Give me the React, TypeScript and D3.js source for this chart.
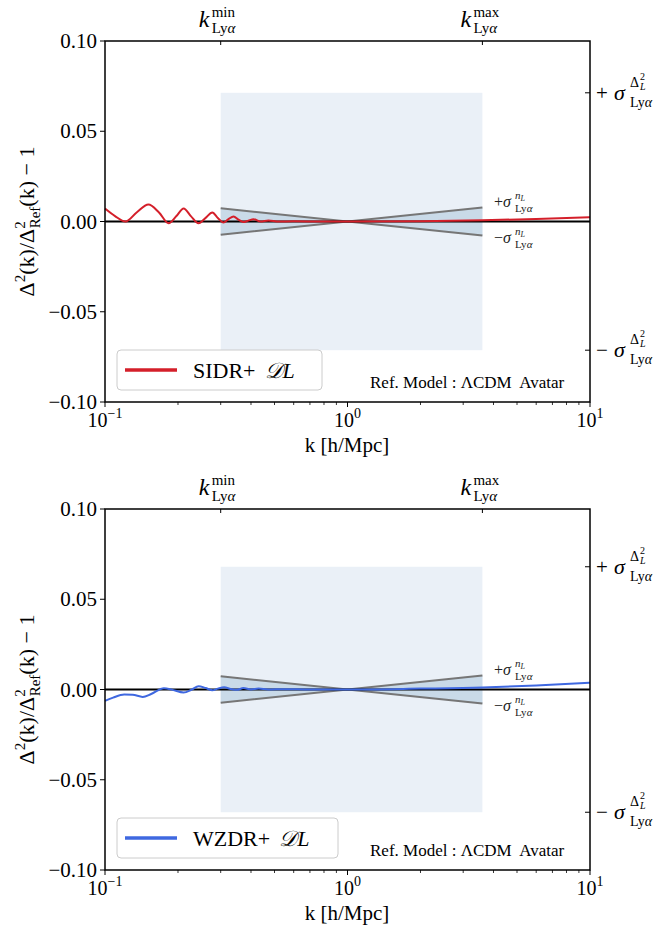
import React from "react";
import * as d3 from "d3";

// x ticks / y ticks
const X_MAJOR = [0.1, 1, 10];
const X_MAJOR_EXP = ["−1", "0", "1"];
const Y_TICKS = [-0.1, -0.05, 0, 0.05, 0.1];
const Y_TICK_LABELS = ["−0.10", "−0.05", "0.00", "0.05", "0.10"];

// Lyα window
const K_MIN = 0.3;
const K_MAX = 3.6;
const NL_K = [0.3, 1, 3.6];
const NL_V = [0.0073, 0, 0.0078];

// SIDR+ DL residuals
const SIDR_K = [0.1, 0.11, 0.1215, 0.135, 0.151, 0.167, 0.183, 0.197, 0.211, 0.226, 0.243, 0.26, 0.277, 0.292, 0.308, 0.322, 0.339, 0.355, 0.372, 0.39, 0.41, 0.438, 0.472, 0.52, 0.6, 0.8, 1.0, 2.0, 3.6, 6.0, 10.0];
const SIDR_V = [0.0072, 0.003, 0.0, 0.005, 0.0094, 0.005, -0.001, 0.003, 0.0072, 0.003, -0.001, 0.002, 0.005, 0.002, -0.0005, 0.0012, 0.0028, 0.001, -0.0003, 0.0005, 0.0012, 0.0, 0.0006, 0.0, 0.0001, 0.0, 0.0, 0.0002, 0.0007, 0.0014, 0.0024];

// WZDR+ DL residuals
const WZDR_K = [0.1, 0.108, 0.12, 0.13, 0.143, 0.155, 0.175, 0.19, 0.211, 0.228, 0.243, 0.26, 0.277, 0.292, 0.31, 0.33, 0.35, 0.372, 0.4, 0.43, 0.47, 0.55, 0.7, 1.0, 2.0, 3.6, 6.0, 10.0];
const WZDR_V = [-0.0063, -0.0045, -0.0028, -0.0029, -0.0041, -0.0025, 0.0007, -0.0002, -0.0017, 0.0, 0.0018, 0.0008, -0.0004, 0.0005, 0.0012, 0.0003, -0.0002, 0.0008, 0.0, 0.0005, 0.0, 0.0002, 0.0, 0.0, 0.0005, 0.0011, 0.0022, 0.0037];

const FONT = "Liberation Serif, Times New Roman, DejaVu Serif, serif";

function Panel({ top, bottom, ks, vs, color, name, sigma }) {
  const x = d3.scaleLog().domain([0.1, 10]).range([105, 590]);
  const y = d3.scaleLinear().domain([-0.1, 0.1]).range([bottom, top]);
  const left = 105;
  const right = 590;

  const pts = ks.map((k, i) => [k, vs[i]]);
  const curve = d3
    .line()
    .x((d) => x(d[0]))
    .y((d) => y(d[1]))
    .curve(d3.curveMonotoneX);

  const nl = NL_K.map((k, i) => [k, NL_V[i]]);
  const area = d3
    .area()
    .x((d) => x(d[0]))
    .y0((d) => y(-d[1]))
    .y1((d) => y(d[1]));
  const up = d3.line().x((d) => x(d[0])).y((d) => y(d[1]));
  const dn = d3.line().x((d) => x(d[0])).y((d) => y(-d[1]));

  const minor = [];
  [0.1, 1].forEach((dec) => {
    for (let m = 2; m <= 9; m++) minor.push(dec * m);
  });

  const kLabel = (kx, sup) => (
    <g>
      <text x={kx - 22} y={top - 14} fontSize={24} fontStyle="italic">k</text>
      <text x={kx - 9} y={top - 24} fontSize={15}>{sup}</text>
      <text x={kx - 9} y={top - 8} fontSize={15}>
        Ly<tspan fontStyle="italic">α</tspan>
      </text>
    </g>
  );

  const sigLabel = (val, sign) => {
    const yy = y(val);
    return (
      <g>
        <text x={596} y={yy + 7} fontSize={21}>{sign}</text>
        <text x={614} y={yy + 7} fontSize={22} fontStyle="italic">σ</text>
        <text x={630} y={yy - 6} fontSize={14}>Δ</text>
        <text x={640} y={yy - 13} fontSize={10}>2</text>
        <text x={640} y={yy - 3} fontSize={10} fontStyle="italic">L</text>
        <text x={630} y={yy + 14} fontSize={14}>
          Ly<tspan fontStyle="italic">α</tspan>
        </text>
      </g>
    );
  };

  const nlLabel = (val, sign) => {
    const yy = y(val);
    return (
      <g fill="#222">
        <text x={494} y={yy} fontSize={16}>
          {sign}
          <tspan fontStyle="italic">σ</tspan>
        </text>
        <text x={515} y={yy - 8} fontSize={11} fontStyle="italic">
          n<tspan fontSize={8} dy={2}>L</tspan>
        </text>
        <text x={515} y={yy + 5} fontSize={11}>
          Ly<tspan fontStyle="italic">α</tspan>
        </text>
      </g>
    );
  };

  return (
    <g>
      <rect x={x(K_MIN)} y={y(sigma)} width={x(K_MAX) - x(K_MIN)} height={y(-sigma) - y(sigma)} fill="#eaf0f7" />
      <path d={area(nl)} fill="#c9dae8" />
      <path d={up(nl)} fill="none" stroke="#767676" strokeWidth={2} />
      <path d={dn(nl)} fill="none" stroke="#767676" strokeWidth={2} />
      <line x1={left} x2={right} y1={y(0)} y2={y(0)} stroke="#000" strokeWidth={2} />
      <path d={curve(pts)} fill="none" stroke={color} strokeWidth={2} />
      <rect x={left} y={top} width={right - left} height={bottom - top} fill="none" stroke="#000" strokeWidth={1.5} />

      {/* left ticks */}
      {Y_TICKS.map((t, i) => (
        <g key={"y" + i}>
          <line x1={left - 5} x2={left} y1={y(t)} y2={y(t)} stroke="#000" strokeWidth={1} />
          <text x={left - 8} y={y(t) + 7} textAnchor="end" fontSize={21}>{Y_TICK_LABELS[i]}</text>
        </g>
      ))}

      {/* bottom ticks */}
      {X_MAJOR.map((t, i) => (
        <g key={"x" + i}>
          <line x1={x(t)} x2={x(t)} y1={bottom} y2={bottom + 5} stroke="#000" strokeWidth={1} />
          <text x={x(t)} y={bottom + 25} textAnchor="middle" fontSize={20}>
            10<tspan fontSize={14} dy={-9}>{X_MAJOR_EXP[i]}</tspan>
          </text>
        </g>
      ))}
      {minor.map((t, i) => (
        <line key={"m" + i} x1={x(t)} x2={x(t)} y1={bottom} y2={bottom + 3} stroke="#000" strokeWidth={0.8} />
      ))}
      <text x={347} y={bottom + 50} textAnchor="middle" fontSize={21}>k [h/Mpc]</text>

      {/* top ticks */}
      {[K_MIN, K_MAX].map((t, i) => (
        <line key={"t" + i} x1={x(t)} x2={x(t)} y1={top} y2={top + 4} stroke="#000" strokeWidth={1} />
      ))}
      {kLabel(x(K_MIN), "min")}
      {kLabel(x(K_MAX), "max")}

      {/* right ticks */}
      {[sigma, -sigma].map((t, i) => (
        <line key={"r" + i} x1={right - 5} x2={right} y1={y(t)} y2={y(t)} stroke="#000" strokeWidth={1} />
      ))}
      {sigLabel(sigma, "+")}
      {sigLabel(-sigma, "−")}

      {nlLabel(0.0083, "+")}
      {nlLabel(-0.0117, "−")}

      {/* y label */}
      <g transform={`translate(34,${y(0)}) rotate(-90)`}>
        <text textAnchor="middle" fontSize={22}>
          Δ<tspan fontSize={15} dy={-9}>2</tspan>
          <tspan dy={9}>(k)/Δ</tspan>
          <tspan fontSize={15} dy={-9}>2</tspan>
          <tspan fontSize={15} dx={-7} dy={15}>Ref</tspan>
          <tspan dy={-6}>(k) − 1</tspan>
        </text>
      </g>

      {/* legend */}
      <rect x={117} y={bottom - 52} width={name === "SIDR+" ? 205 : 221} height={40} rx={4} fill="#fff" fillOpacity={0.85} stroke="#cccccc" />
      <line x1={125} x2={177} y1={bottom - 32} y2={bottom - 32} stroke={color} strokeWidth={3.5} />
      <text x={193} y={bottom - 24} fontSize={22}>
        {name}
        <tspan dx={9} fontStyle="italic">𝒟L</tspan>
      </text>

      <text x={370} y={bottom - 14} fontSize={17} xmlSpace="preserve">Ref. Model : ΛCDM  Avatar</text>
    </g>
  );
}

export default function App() {
  return (
    <svg
      width={660}
      height={925}
      fontFamily={FONT}
      style={{ position: "absolute", left: 0, top: 0, background: "#fff", fontFamily: FONT }}
    >
      <rect width={660} height={925} fill="#fff" />
      <Panel top={41} bottom={402} ks={SIDR_K} vs={SIDR_V} color="#d41f2a" name="SIDR+" sigma={0.0713} />
      <Panel top={509} bottom={870} ks={WZDR_K} vs={WZDR_V} color="#3f68e0" name="WZDR+" sigma={0.068} />
    </svg>
  );
}
